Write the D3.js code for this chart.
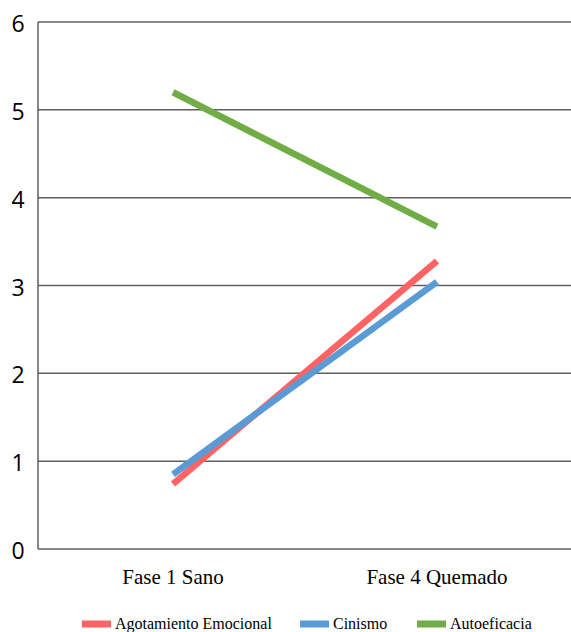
<!DOCTYPE html>
<html><head><meta charset="utf-8">
<script src="https://cdn.jsdelivr.net/npm/d3@7"></script>
<style>body{margin:0;background:#fff}</style>
</head><body>
<svg id="c" width="571" height="632"></svg>
<script>
const categories = ["Fase 1 Sano", "Fase 4 Quemado"];
const seriesNames = ["Agotamiento Emocional", "Cinismo", "Autoeficacia"];
const agotamiento = [0.74, 3.28];
const cinismo = [0.85, 3.04];
const autoeficacia = [5.20, 3.67];
const yTicks = [0, 1, 2, 3, 4, 5, 6];
const colors = ["#FF6363", "#5B9BD5", "#70AD47"];

const series = [agotamiento, cinismo, autoeficacia];
const svg = d3.select("#c");
const L = 38, R = 571, T = 22, B = 549;
const x = d3.scaleBand().domain(categories).range([41, 569]);
const y = d3.scaleLinear().domain([0, 6]).range([B, T]);
const serif = "'Liberation Serif', 'Times New Roman', serif";

svg.append("g").selectAll("line").data(yTicks).join("line")
  .attr("x1", L).attr("x2", R)
  .attr("y1", d => y(d)).attr("y2", d => y(d))
  .attr("stroke", "#5f5f5f").attr("stroke-width", 1.5);
svg.append("line").attr("x1", L).attr("x2", L).attr("y1", y(6)).attr("y2", y(0))
  .attr("stroke", "#5f5f5f").attr("stroke-width", 1.5);

svg.append("g").selectAll("text").data(yTicks).join("text")
  .attr("x", 18).attr("y", d => y(d) + 10)
  .attr("text-anchor", "middle")
  .attr("font-family", "'Open Sans', sans-serif").attr("font-size", 23)
  .attr("fill", "#000").text(d => d);

svg.append("g").selectAll("text").data(categories).join("text")
  .attr("x", d => x(d) + x.bandwidth() / 2).attr("y", 584)
  .attr("text-anchor", "middle")
  .attr("font-family", serif).attr("font-size", 21)
  .attr("fill", "#000").text(d => d);

const line = d3.line().x((d, i) => x(categories[i]) + x.bandwidth() / 2).y(d => y(d));
svg.append("g").selectAll("path").data(series).join("path")
  .attr("d", d => line(d)).attr("fill", "none")
  .attr("stroke", (d, i) => colors[i]).attr("stroke-width", 6.5);

const legX = [82, 300, 417];
const lg = svg.append("g").selectAll("g").data(seriesNames).join("g")
  .attr("transform", (d, i) => `translate(${legX[i]},624)`);
lg.append("rect").attr("x", 0).attr("y", -3.5).attr("width", 29).attr("height", 7)
  .attr("fill", (d, i) => colors[i]);
lg.append("text").attr("x", 33).attr("y", 5).attr("font-family", serif)
  .attr("font-size", 16).attr("fill", "#000").text(d => d);
</script>
</body></html>
